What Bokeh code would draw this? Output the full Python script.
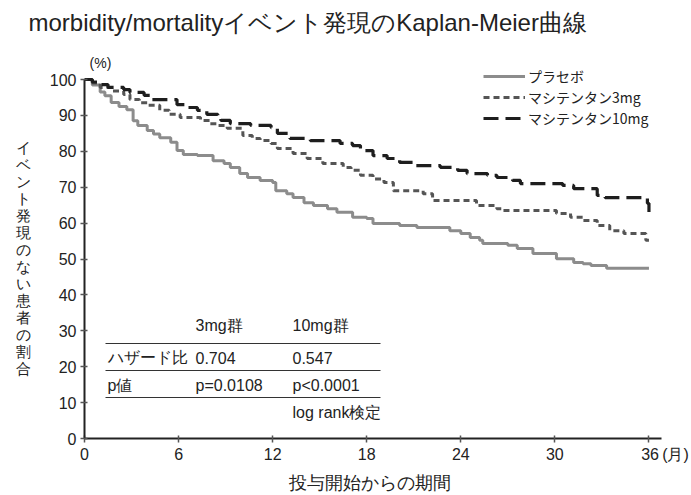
from bokeh.plotting import figure
from bokeh.models import Range1d, Label, Legend, LegendItem, FixedTicker
from bokeh.embed import file_html
from bokeh.resources import INLINE

# ---- data ----
placebo_t = [0, 0.5, 1.0, 1.3, 1.7, 2.2, 2.7, 3.1, 3.4, 4.0, 4.4, 4.8, 5.5, 5.9, 6.3, 7.2, 8.2, 8.9, 9.3, 9.9,
             10.4, 11.2, 12.0, 12.2, 12.9, 13.3, 14.0, 14.6, 15.5, 16.1, 17.1, 18.0, 18.4, 20.1, 21.2, 23.3,
             24.0, 24.6, 25.2, 25.4, 27.0, 27.6, 28.6, 30.1, 31.2, 31.8, 32.3, 33.3, 36.0]
placebo_v = [100, 98.5, 96.5, 95.5, 93.6, 92.5, 91.6, 88.5, 87.2, 85.8, 84.8, 83.8, 82.5, 80.2, 79.1, 78.8, 77.4,
             76.6, 75.5, 73.8, 72.7, 71.9, 71.3, 69.0, 68.2, 67.1, 65.7, 64.9, 64.0, 63.0, 61.6, 61.3, 59.9,
             59.3, 58.8, 57.9, 57.1, 56.0, 55.2, 54.3, 53.8, 52.9, 51.5, 50.1, 49.0, 48.7, 48.2, 47.4, 47.4]

mg3_t = [0, 0.5, 1.0, 1.8, 2.5, 2.9, 3.5, 4.0, 4.8, 5.4, 6.1, 7.4, 8.0, 8.5, 9.1, 10.1, 10.7, 11.2, 11.9, 12.3,
         13.3, 14.2, 15.2, 16.5, 17.0, 17.6, 18.4, 19.1, 19.7, 21.6, 22.2, 25.0, 26.3, 26.7, 30.1, 31.0, 31.8,
         32.7, 33.5, 34.4, 35.8, 36.0]
mg3_v = [100, 99, 97.8, 96.8, 95.8, 94.4, 93.5, 92.8, 91.4, 90.3, 89.4, 88.6, 87.7, 87.2, 86.4, 84.4, 83.6, 83.0,
         82.2, 80.8, 79.4, 78.0, 76.6, 75.5, 74.7, 73.3, 72.3, 71.3, 69.0, 68.2, 66.3, 64.9, 64.0, 63.5, 62.7,
         61.6, 60.7, 59.3, 57.9, 57.1, 55.2, 55.2]

mg10_t = [0, 0.5, 0.8, 1.5, 2.5, 2.9, 3.8, 4.2, 5.9, 6.6, 7.2, 7.8, 8.5, 8.7, 9.3, 10.6, 11.9, 12.3, 13.1, 14.4,
          16.3, 17.1, 17.6, 18.4, 19.3, 20.1, 21.0, 22.7, 23.8, 24.4, 25.7, 26.3, 27.3, 27.8, 30.5, 31.2, 32.7,
          33.2, 35.9, 36.0]
mg10_v = [100, 99.3, 98.6, 97.8, 97.2, 96.4, 95.6, 94.4, 93.0, 92.2, 91.4, 90.3, 89.4, 88.6, 87.7, 87.2, 86.6,
          85.0, 83.6, 83.0, 82.2, 81.6, 80.2, 78.8, 78.0, 76.9, 76.0, 75.5, 74.7, 73.8, 73.3, 72.7, 71.9, 71.0,
          70.5, 69.6, 67.7, 67.1, 65.5, 63.0]

series_names = ["プラセボ", "マシテンタン3mg", "マシテンタン10mg"]
x_ticks = [0, 6, 12, 18, 24, 30, 36]
y_ticks = [0, 10, 20, 30, 40, 50, 60, 70, 80, 90, 100]
x_tick_overrides = {36: "\u2003\u200336\u2009(月)"}

title_text = "morbidity/mortalityイベント発現のKaplan-Meier曲線"
ylabel_text = "イベント発現のない患者の割合"
xlabel_text = "投与開始からの期間"
table_header = ["", "3mg群", "10mg群"]
table_rows = [["ハザード比", "0.704", "0.547"], ["p値", "p=0.0108", "p<0.0001"], ["", "", "log rank検定"]]

# ---- layout ----
W, H = 691, 495
L, T, B = 84, 42, 57
X0PX, Y0PX = 84, 438          # pixel of (0, 0)
XPX = 577 / 36.8              # px per month
YPX = 359 / 100.0             # px per %
x_end = (W - X0PX) / XPX
y_end = (Y0PX - T) / YPX

def dx(px):
    return (px - X0PX) / XPX

def dy(py):
    return (Y0PX - py) / YPX

p = figure(width=W, height=H, output_backend="svg", toolbar_location=None,
           x_range=Range1d(0, x_end), y_range=Range1d(0, y_end),
           min_border_left=L, min_border_right=0, min_border_top=T, min_border_bottom=B)
p.outline_line_color = None
p.grid.visible = False
p.background_fill_color = "white"
p.border_fill_color = "white"

p.title.text = title_text
p.title.align = "left"
p.title.offset = -56
p.title.standoff = 13
p.title.text_font = "Liberation Sans"
p.title.text_font_size = "24px"
p.title.text_font_style = "normal"
p.title.text_color = "#222222"

r_pl = p.step(placebo_t, placebo_v, mode="after", line_color="#8c8c8c", line_width=3)
r_3 = p.step(mg3_t, mg3_v, mode="after", line_color="#555555", line_width=3, line_dash="6 4")
r_10 = p.step(mg10_t, mg10_v, mode="after", line_color="#1e1e1e", line_width=3.2, line_dash="15 7")

NUMFONT = "Liberation Sans"
JPFONT = "Noto Sans CJK JP"

for ax, ticks in ((p.xaxis, x_ticks), (p.yaxis, y_ticks)):
    ax.ticker = FixedTicker(ticks=ticks)
    ax.minor_tick_line_color = None
    ax.axis_line_width = 2
    ax.axis_line_color = "#222222"
    ax.major_tick_line_color = "#555555"
    ax.major_tick_line_width = 1.5
    ax.major_tick_in = 3
    ax.major_tick_out = 4
    ax.major_label_text_font = NUMFONT
    ax.major_label_text_font_size = "16px"
    ax.major_label_text_color = "#222222"
    ax.axis_label_text_font = NUMFONT
    ax.axis_label_text_font_style = "normal"
    ax.axis_label_text_color = "#222222"
p.xaxis.bounds = (0, 36.8)
p.yaxis.bounds = (0, 100)
p.xaxis.major_label_standoff = 3
p.yaxis.major_label_standoff = 4
p.xaxis.major_label_overrides = x_tick_overrides

# trailing ideographic spaces shift the centred label left onto the axis span
p.xaxis.axis_label = xlabel_text + "\u3000\u3000"
p.xaxis.axis_label_text_font_size = "18px"
p.xaxis.axis_label_standoff = 7

# vertical (upright) label; two blank lines on top shift it down onto the axis span
p.yaxis.axis_label = "\u3000\n\u3000\n" + "\n".join(ylabel_text)
p.yaxis.axis_label_orientation = "horizontal"
p.yaxis.axis_label_text_font_size = "15px"
p.yaxis.axis_label_text_line_height = 1.0
p.yaxis.axis_label_standoff = 16

def lab(px, py, text, size, font=NUMFONT, align="left", baseline="middle", color="#222222"):
    p.add_layout(Label(x=dx(px), y=dy(py), text=text, text_font=font, text_font_size=size,
                       text_align=align, text_baseline=baseline, text_color=color))

lab(100, 62, "(%)", "14px", align="center")

# table
col_x = [107, 195, 292]
row_y = [325, 357, 385, 412]
for j, t in enumerate(table_header):
    if t:
        lab(col_x[j], row_y[0], t, "16px")
for i, row in enumerate(table_rows):
    for j, t in enumerate(row):
        if t:
            lab(col_x[j], row_y[i + 1], t, "16px")
rule_y = [343, 370, 397]
p.segment(x0=[dx(105)] * 3, x1=[dx(380)] * 3, y0=[dy(v) for v in rule_y], y1=[dy(v) for v in rule_y],
          line_color="#333333", line_width=1)

legend = Legend(items=[LegendItem(label=series_names[0], renderers=[r_pl]),
                       LegendItem(label=series_names[1], renderers=[r_3]),
                       LegendItem(label=series_names[2], renderers=[r_10])],
                location=(483 - X0PX, Y0PX - 128), orientation="vertical",
                glyph_width=42, glyph_height=20, label_height=20, spacing=1, padding=0, margin=0,
                label_standoff=3, label_text_font=JPFONT, label_text_font_size="14px",
                label_text_color="#222222", border_line_color=None, background_fill_alpha=0)
p.add_layout(legend)

open("out.html", "w").write(file_html(p, INLINE))
